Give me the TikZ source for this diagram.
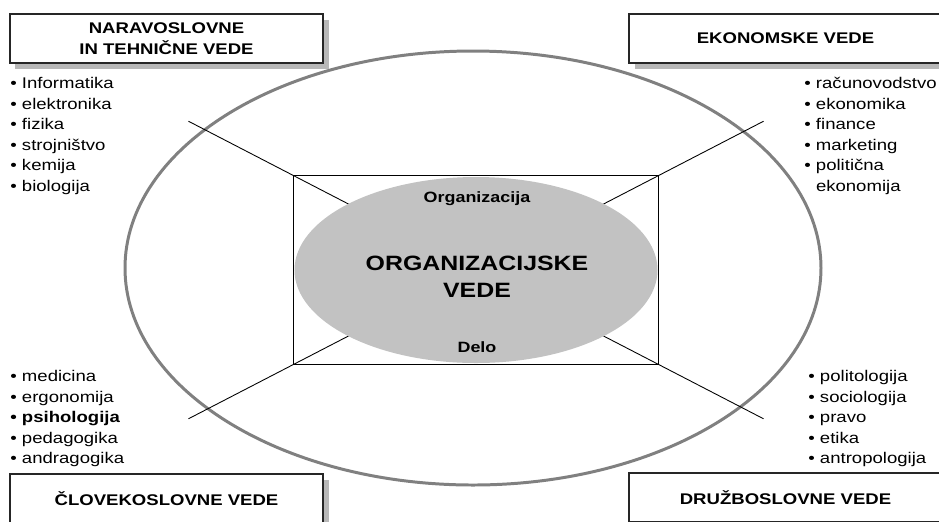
\documentclass[tikz,border=0pt]{standalone}
\usepackage{fontspec}
\setmainfont{Liberation Sans}[FakeStretch=1.2]
\usetikzlibrary{shapes.geometric, shadows, calc}

\begin{document}
\begin{tikzpicture}[
		x=0.2mm, y=-0.2mm,
		field/.style={rectangle, draw=black!85, line width=0.6pt, fill=white, minimum width=62.6mm, minimum height=9.8mm, inner sep=0pt, align=center, font=\bfseries\fontsize{8.8}{11.9}\selectfont, drop shadow={shadow xshift=1.1mm, shadow yshift=-1.1mm, fill=black!28, opacity=1}},
		items/.style={anchor=north west, inner sep=0pt, align=left, font=\fontsize{8.8}{11.7}\selectfont},
		frame/.style={rectangle, minimum width=72.8mm, minimum height=37.6mm, inner sep=0pt},
		disc/.style={ellipse, fill=black!24, minimum width=72.6mm, minimum height=37.2mm, inner sep=0pt},
		tag/.style={anchor=base, inner sep=0pt, font=\bfseries\fontsize{8.5}{10}\selectfont},
		spoke/.style={line width=0.5pt}
		]
		\useasboundingbox (0,0) rectangle (939,521);
		
		% Outer ring
		\coordinate (mid) at (473,268);
		\draw[black!50, line width=1.7pt] (mid) ellipse [x radius=348, y radius=217];
		
		% Core
		\node[frame] (core) at (476,270) {};
		\foreach \c in {north west, north east, south west, south east}
			\draw[spoke] (core.center) -- ($(core.center)!1.577!(core.\c)$);
		\node[disc] (orgved) at (core.center) {};
		\draw[line width=0.6pt] (core.north west) rectangle (core.south east);
		\node[align=center, font=\bfseries\fontsize{11.8}{15.2}\selectfont] (orgtitle) at (477,277) {ORGANIZACIJSKE\\VEDE};
		\node[tag] (org) at (477,202) {Organizacija};
		\node[tag] (delo) at (477,352) {Delo};
		
		% Fields
		\node[field] (natur) at (166.5,38.5) {NARAVOSLOVNE\\IN TEHNIČNE VEDE};
		\node[field] (ekon) at (785.5,38.5) {EKONOMSKE VEDE};
		\node[field] (clov) at (166.5,498.5) {ČLOVEKOSLOVNE VEDE};
		\node[field] (druz) at (785.5,497.5) {DRUŽBOSLOVNE VEDE};
		
		% Lists
		\node[items] (naturl) at (10,77) {• Informatika\\• elektronika\\• fizika\\• strojništvo\\• kemija\\• biologija};
		\node[items] (ekonl) at (804,77) {• računovodstvo\\• ekonomika\\• finance\\• marketing\\• politična\\\phantom{• }ekonomija};
		\node[items] (clovl) at (10,370) {• medicina\\• ergonomija\\\textbf{• psihologija}\\• pedagogika\\• andragogika};
		\node[items] (druzl) at (808,370) {• politologija\\• sociologija\\• pravo\\• etika\\• antropologija};
	\end{tikzpicture}
\end{document}
